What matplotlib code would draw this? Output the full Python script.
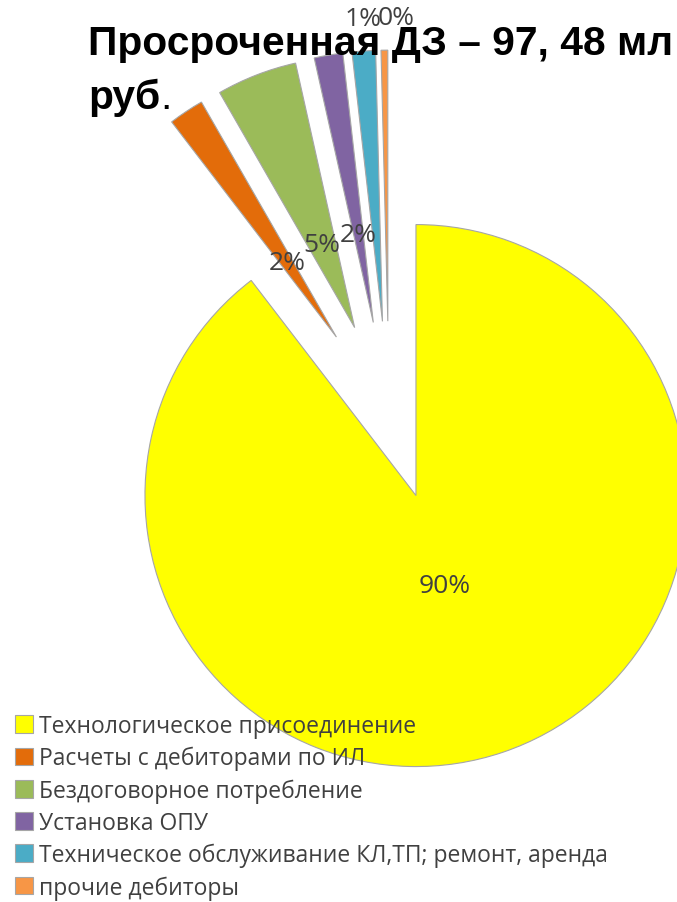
import matplotlib
matplotlib.use("Agg")
import matplotlib.pyplot as plt
import matplotlib.transforms as mtransforms
import numpy as np

plt.rcParams['font.family'] = ['Open Sans', 'DejaVu Sans']

# debt structure, mln rub (total 97.48)
categories = [
    'Технологическое присоединение',
    'Расчеты с дебиторами по ИЛ',
    'Бездоговорное потребление',
    'Установка ОПУ',
    'Техническое обслуживание КЛ,ТП; ремонт, аренда',
    'прочие дебиторы',
]
amounts = [87.34, 2.05, 4.68, 1.66, 1.36, 0.39]
colors = ['#FFFF00', '#E36C0A', '#9BBB59', '#8064A2', '#4BACC6', '#F79646']
explode = [0.31, 0.35, 0.35, 0.35, 0.35, 0.35]

W, H = 677, 903
R_PX = 271.0
CX, CY = 389.0, 417.0  # pie centre in pixels (from top-left)

fig = plt.figure(figsize=(W / 100, H / 100), dpi=100)
ax = fig.add_axes([0, 0, 1, 1])

wedges, texts, autotexts = ax.pie(
    amounts, colors=colors, explode=explode, startangle=90,
    counterclock=False, autopct='%.0f%%', pctdistance=0.33,
    wedgeprops=dict(edgecolor='#a6a6a6', linewidth=0.8),
    textprops=dict(fontsize=19, color='#404040'),
)

# Excel-like label placement for the tiny slices
label_dist = [0.35, 0.33, 0.33, 0.33, 1.12, 1.12]
nudge_px = [-2, 0, 0, 0, 2, 12]
for w, t, d, n in zip(wedges, autotexts, label_dist, nudge_px):
    ang = np.deg2rad((w.theta1 + w.theta2) / 2)
    cx, cy = w.center
    t.set_position((cx + d * w.r * np.cos(ang), cy + d * w.r * np.sin(ang)))
    t.set_transform(mtransforms.offset_copy(ax.transData, fig=fig,
                                            x=n, y=0, units='dots'))

ax.set_xlim(-CX / R_PX, (W - CX) / R_PX)
ax.set_ylim(-(H - CY) / R_PX, CY / R_PX)
ax.axis('off')

fig.text(88 / W, 1 - 55 / H, 'Просроченная ДЗ – 97, 48 мл',
         fontsize=29.3, fontweight='bold', family='Liberation Sans',
         va='baseline', ha='left', color='black')
t2 = fig.text(88 / W, 1 - 109 / H, 'руб',
              fontsize=29.3, fontweight='bold', family='Liberation Sans',
              va='baseline', ha='left', color='black')
fig.canvas.draw()
bb = t2.get_window_extent()
fig.text(bb.x1 / W, 1 - 109 / H, '.', fontsize=29.3, family='Liberation Sans',
         va='baseline', ha='left', color='black')

leg = fig.legend(wedges, categories, loc='upper left',
                 bbox_to_anchor=(15 / W, 1 - 715 / H), frameon=False,
                 fontsize=16.5, handlelength=0.8, handleheight=0.8,
                 handletextpad=0.25, labelspacing=0.35, borderpad=0,
                 borderaxespad=0)
for txt in leg.get_texts():
    txt.set_color('#404040')

fig.savefig('out.png', dpi=100)
